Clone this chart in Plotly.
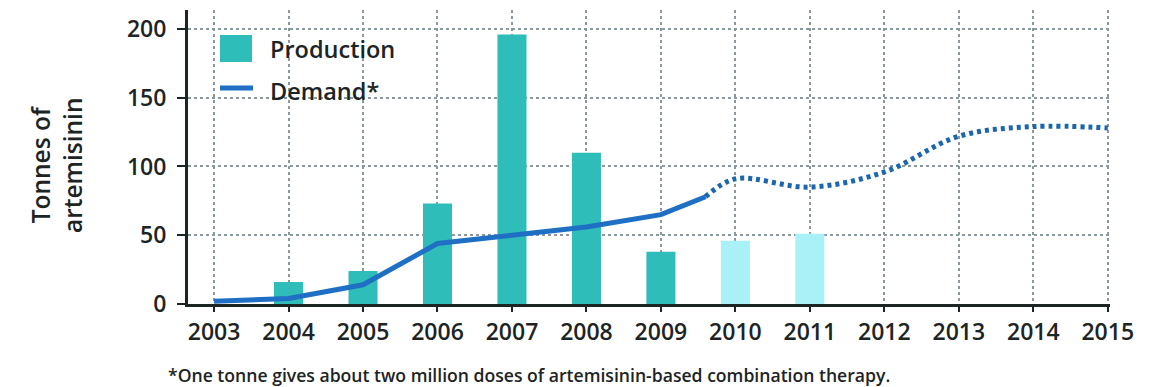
import plotly.graph_objects as go

# ---- data ----
years = [2003, 2004, 2005, 2006, 2007, 2008, 2009, 2010, 2011, 2012, 2013, 2014, 2015]
tick_labels = [str(y) for y in years]

prod_years = [2004, 2005, 2006, 2007, 2008, 2009, 2010, 2011]
prod_vals = [16, 24, 73, 196, 110, 38, 46, 51]
prod_colors = ["#2fbdb9"] * 6 + ["#a9f1f6"] * 2

demand_years = [2003, 2004, 2005, 2006, 2007, 2008, 2009, 2009.6]
demand_vals = [2, 4, 14, 44, 50, 56, 65, 78]

proj_years = [2009.6, 2010, 2011, 2012, 2013, 2014, 2015]
proj_vals = [78, 91, 85, 96, 122, 129, 128]

y_ticks = [0, 50, 100, 150, 200]

FONT = "Open Sans"
DARK = "#1d2424"
TEAL = "#2fbdb9"
BLUE = "#1f6fc4"

W, H = 1151, 387
ML, MR, MT, MB = 180, 49, 2, 91
PW, PH = W - ML - MR, H - MT - MB


def px(x):
    return (x - ML) / PW


def py(y):
    return 1 - (y - MT) / PH


fig = go.Figure()

fig.add_trace(go.Bar(
    x=prod_years, y=prod_vals, name="Production",
    marker=dict(color=prod_colors, line=dict(width=0)),
    width=0.39,
))

fig.add_trace(go.Scatter(
    x=demand_years, y=demand_vals, name="Demand*", mode="lines",
    line=dict(color=BLUE, width=5),
))

fig.add_trace(go.Scatter(
    x=proj_years, y=proj_vals, mode="lines", name="Demand (projected)",
    line=dict(color="#1c66ad", width=5, dash="4px,4px", shape="spline", smoothing=1.0),
))

# legend drawn as keys + labels
shapes = [
    dict(type="rect", xref="paper", yref="paper",
         x0=px(212), x1=px(244), y0=py(54), y1=py(27),
         fillcolor=TEAL, line=dict(width=0)),
    dict(type="line", xref="paper", yref="paper",
         x0=px(212), x1=px(245), y0=py(80), y1=py(80),
         line=dict(color=BLUE, width=5)),
]

W6 = 600

fig.update_layout(
    width=W, height=H,
    margin=dict(l=ML, r=MR, t=MT, b=MB),
    paper_bgcolor="white", plot_bgcolor="white",
    font=dict(family=FONT, color=DARK, size=23),
    showlegend=False,
    xaxis=dict(
        range=[2002.65, 2015.03],
        tickvals=years, ticktext=tick_labels,
        showgrid=True, gridcolor="#8a979c", gridwidth=1.5, griddash="dot",
        showline=True, linecolor=DARK, linewidth=3,
        ticks="outside", ticklen=5, tickcolor=DARK, tickwidth=1.5,
        tickfont=dict(size=23, family=FONT, color=DARK, weight=W6),
        zeroline=False,
    ),
    yaxis=dict(
        range=[0, 213.8],
        tickvals=y_ticks,
        showgrid=True, gridcolor="#8a979c", gridwidth=1.5, griddash="dot",
        showline=True, linecolor=DARK, linewidth=3,
        ticks="outside", ticklen=8, tickcolor=DARK, tickwidth=2,
        ticklabelstandoff=6,
        tickfont=dict(size=23, family=FONT, color=DARK, weight=W6),
        zeroline=False,
    ),
    shapes=shapes,
    annotations=[
        dict(text="Production", xref="paper", yref="paper",
             x=px(260), y=py(41), xanchor="left", yanchor="middle",
             showarrow=False, font=dict(size=23.5, family=FONT, color=DARK, weight=W6)),
        dict(text="Demand*", xref="paper", yref="paper",
             x=px(260), y=py(83), xanchor="left", yanchor="middle",
             showarrow=False, font=dict(size=23.5, family=FONT, color=DARK, weight=W6)),
        dict(text="Tonnes of<br>artemisinin", xref="paper", yref="paper",
             x=px(48), y=py(157), xanchor="center", yanchor="middle",
             textangle=-90, showarrow=False,
             font=dict(size=24.5, family=FONT, color=DARK, weight=W6)),
        dict(text="*One tonne gives about two million doses of artemisinin-based combination therapy.",
             xref="paper", yref="paper", x=px(158), y=py(367), xanchor="left", yanchor="middle",
             showarrow=False, font=dict(size=17.6, family=FONT, color=DARK, weight=W6)),
    ],
)

fig.write_html("out.html")
